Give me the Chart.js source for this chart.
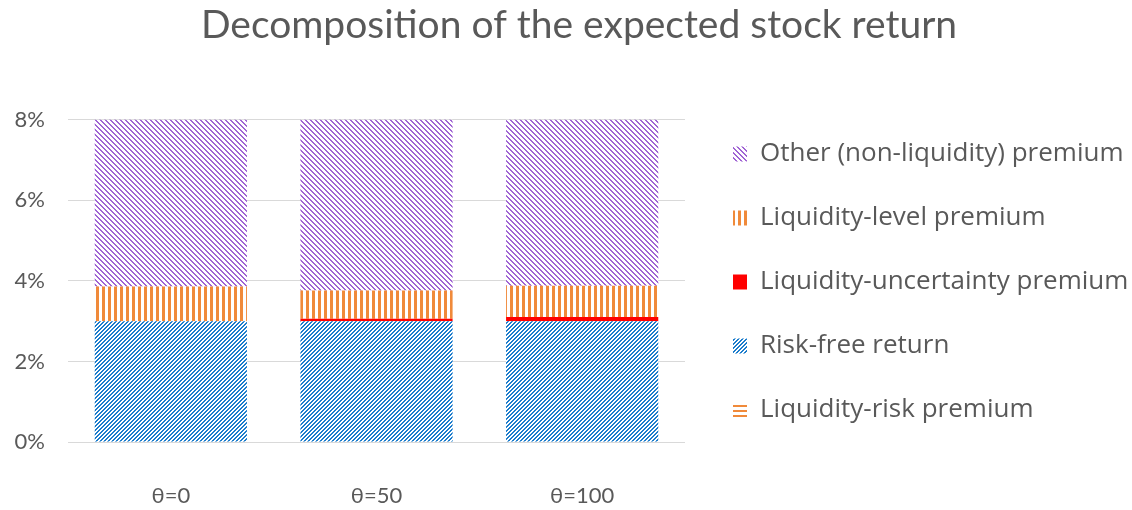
<!DOCTYPE html>
<html><head><meta charset="utf-8">
<script src="https://cdn.jsdelivr.net/npm/chart.js@4/dist/chart.umd.min.js"></script>
<style>html,body{margin:0;padding:0;background:#fff}#wrap{width:1132px;height:510px}</style>
</head><body><div id="wrap"><canvas id="c" width="1132" height="510"></canvas></div>
<script>
const categories = ['θ=0', 'θ=50', 'θ=100'];
const liquidityRiskPremium = [0, 0, 0];
const riskFreeReturn = [3.0, 3.0, 3.0];
const liquidityUncertaintyPremium = [0, 0.06, 0.1];
const liquidityLevelPremium = [0.86, 0.70, 0.78];
const otherPremium = [4.14, 4.24, 4.12];
const yTickValues = [0, 2, 4, 6, 8];
const seriesNames = ['Liquidity-risk premium', 'Risk-free return', 'Liquidity-uncertainty premium', 'Liquidity-level premium', 'Other (non-liquidity) premium'];

function pattern(color, p, w, kind) {
  const c = document.createElement('canvas');
  c.width = p; c.height = p;
  const g = c.getContext('2d');
  g.fillStyle = '#ffffff'; g.fillRect(0, 0, p, p);
  g.fillStyle = color;
  for (let x = 0; x < p; x++) for (let y = 0; y < p; y++) {
    let v;
    if (kind === 'down') v = ((x - y) % p + p) % p;
    else if (kind === 'up') v = (x + y) % p;
    else if (kind === 'vert') v = x;
    else v = y;
    if (v < w) g.fillRect(x, y, 1, 1);
  }
  return g.createPattern(c, 'repeat');
}

function build() {
  const ctx = document.getElementById('c').getContext('2d');
  const purple = pattern('#a064d4', 5, 2, 'down');
  const blue = pattern('#1b7ccc', 4, 2, 'up');
  const orangeV = pattern('#f08a3a', 6, 3, 'vert');
  const orangeH = pattern('#f08a3a', 5, 2, 'horiz');
  const fills = [orangeH, blue, '#ff0000', orangeV, purple];
  const values = [liquidityRiskPremium, riskFreeReturn, liquidityUncertaintyPremium, liquidityLevelPremium, otherPremium];

  const titleShift = {
    id: 'titleShift',
    afterLayout(chart) { if (chart.titleBlock) { chart.titleBlock.left += 26; } }
  };

  new Chart(ctx, {
    type: 'bar',
    data: {
      labels: categories,
      datasets: seriesNames.map((n, i) => ({
        label: n,
        data: values[i],
        backgroundColor: fills[i],
        borderWidth: 0,
        stack: 's',
        categoryPercentage: 1,
        barPercentage: 0.74
      }))
    },
    plugins: [titleShift],
    options: {
      responsive: false,
      animation: false,
      devicePixelRatio: 1,
      layout: { padding: { left: 0, right: 0, top: 0, bottom: 0 } },
      plugins: {
        title: {
          display: true,
          text: 'Decomposition of the expected stock return',
          color: '#595959',
          font: { family: 'Lato', size: 39, weight: 'normal', lineHeight: 1.2 },
          padding: { top: 2, bottom: 52 }
        },
        legend: {
          position: 'right',
          align: 'start',
          reverse: true,
          maxWidth: 437,
          title: { display: true, text: '', font: { family: 'Open Sans', size: 10, lineHeight: 1 }, padding: { top: 93, bottom: 0 } },
          labels: {
            color: '#595959',
            font: { family: 'Open Sans', size: 26 },
            boxWidth: 14,
            boxHeight: 15,
            padding: 38
          }
        },
        tooltip: { enabled: false }
      },
      scales: {
        x: {
          stacked: true,
          grid: { display: false },
          border: { display: false },
          ticks: { color: '#595959', font: { family: 'Lato', size: 22 }, padding: 33 },
          afterFit(s) { s.height = 68; }
        },
        y: {
          stacked: true,
          min: 0,
          max: 8.47,
          grid: { color: '#d9d9d9', drawTicks: false, lineWidth: 1 },
          border: { display: false },
          afterBuildTicks(s) { s.ticks = yTickValues.map(v => ({ value: v })); },
          ticks: { color: '#595959', font: { family: 'Lato', size: 22 }, padding: 23, callback: v => v + '%' },
          afterFit(s) { s.width = 68; }
        },
        y2: {
          position: 'right',
          display: true,
          grid: { display: false },
          border: { display: false },
          ticks: { display: false },
          afterFit(s) { s.width = 10; }
        }
      }
    }
  });
}
Promise.all([document.fonts.load('26px "Open Sans"'), document.fonts.load('22px Lato'), document.fonts.load('39px Lato')]).then(build, build);
</script>
</body></html>
